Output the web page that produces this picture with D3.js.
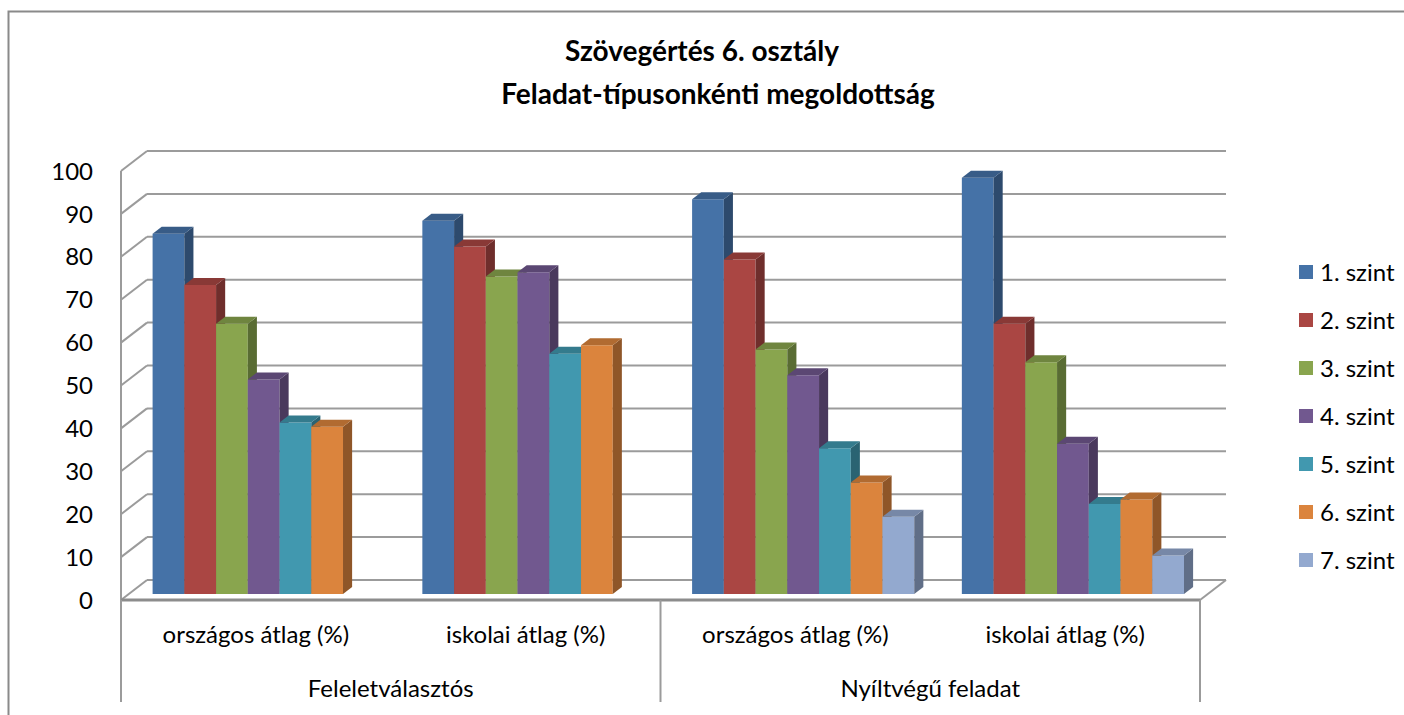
<!DOCTYPE html>
<html>
<head>
<meta charset="utf-8">
<script src="https://cdn.jsdelivr.net/npm/d3@7"></script>
<style>
  body { margin: 0; background: #fff; }
  text { font-family: Lato, "Open Sans", sans-serif; fill: #000; }
</style>
</head>
<body>
<script>
// data
var subCategories = ['országos átlag (%)', 'iskolai átlag (%)', 'országos átlag (%)', 'iskolai átlag (%)'];
var groups = ['Feleletválasztós', 'Nyíltvégű feladat'];
var levels = ['1. szint', '2. szint', '3. szint', '4. szint', '5. szint', '6. szint', '7. szint'];
var szint1 = [84, 87, 92, 97];
var szint2 = [72, 81, 78, 63];
var szint3 = [63, 74, 57, 54];
var szint4 = [50, 75, 51, 35];
var szint5 = [40, 56, 34, 21];
var szint6 = [39, 58, 26, 22];
var szint7 = [null, null, 18, 9];
var yTicks = [0, 10, 20, 30, 40, 50, 60, 70, 80, 90, 100];

var series = [szint1, szint2, szint3, szint4, szint5, szint6, szint7];
var colors = ['#4572a7', '#aa4643', '#89a54e', '#71588f', '#4198af', '#db843d', '#93a9cf'];

var width = 1404, height = 715;
var left = 121, right = 1200, floorY = 600, topY = 171;
var depthX = 26, depthY = -20;   // back wall offset
var barF0 = 0.3, barF1 = 0.65;   // bar depth (fraction of floor depth)

var svg = d3.select('body').append('svg')
  .attr('width', width)
  .attr('height', height);

// chart border
svg.append('rect')
  .attr('x', 8.5).attr('y', 11.5)
  .attr('width', 2000).attr('height', 2000)
  .style('fill', 'none')
  .style('stroke', '#8a8a8a')
  .style('stroke-width', 2);

var y = d3.scaleLinear().domain([0, 100]).range([floorY, topY]);

var x0 = d3.scaleBand()
  .domain(d3.range(subCategories.length))
  .range([left, right])
  .padding(0);

var x1 = d3.scaleBand()
  .domain(d3.range(levels.length))
  .range([0, x0.bandwidth()])
  .paddingInner(0)
  .paddingOuter(0.75);

// title
var title = svg.append('text')
  .attr('text-anchor', 'middle')
  .style('font-weight', 'bold')
  .style('font-size', '28px');
title.append('tspan').attr('x', 702).attr('y', 61).text('Szövegértés 6. osztály');
title.append('tspan').attr('x', 718).attr('y', 104).text('Feladat-típusonkénti megoldottság');

var grid = svg.append('g')
  .style('stroke', '#9b9b9b')
  .style('stroke-width', 2)
  .style('fill', 'none');

// left wall tick diagonals + back wall gridlines
yTicks.forEach(function(t) {
  grid.append('line')
    .attr('x1', left).attr('y1', y(t))
    .attr('x2', left + depthX).attr('y2', y(t) + depthY);
  grid.append('line')
    .attr('x1', left + depthX).attr('y1', y(t) + depthY)
    .attr('x2', right + depthX).attr('y2', y(t) + depthY);
});

// left axis
grid.append('line')
  .attr('x1', left).attr('y1', y(100))
  .attr('x2', left).attr('y2', y(0));

// floor
grid.append('line')
  .attr('x1', right).attr('y1', floorY)
  .attr('x2', right + depthX).attr('y2', floorY + depthY);
grid.append('line')
  .attr('x1', left).attr('y1', floorY)
  .attr('x2', right).attr('y2', floorY)
  .style('stroke', '#8c8c8c')
  .style('stroke-width', 3);

// category separators
[left, x0(2), right].forEach(function(xx) {
  grid.append('line')
    .attr('x1', xx).attr('y1', floorY)
    .attr('x2', xx).attr('y2', 702);
});

// y labels
svg.selectAll('.ylab')
  .data(yTicks)
  .enter()
  .append('text')
  .attr('class', 'ylab')
  .attr('x', 93)
  .attr('y', function(d) { return y(d); })
  .attr('dy', '0.36em')
  .attr('text-anchor', 'end')
  .style('font-size', '24px')
  .text(function(d) { return d; });

// bars
function pt(x, v, f) {
  return [x + f * depthX, y(v) + f * depthY];
}

var bars = svg.append('g');
subCategories.forEach(function(c, ci) {
  series.forEach(function(s, si) {
    var v = s[ci];
    if (v == null) return;
    var xl = x0(ci) + x1(si);
    var xr = xl + x1.bandwidth();
    var col = d3.color(colors[si]);
    var g = bars.append('g');
    // front
    var a = pt(xl, v, barF0), b = pt(xr, v, barF0), cc = pt(xr, 0, barF0), d = pt(xl, 0, barF0);
    g.append('polygon')
      .attr('points', [a, b, cc, d].join(' '))
      .attr('fill', col.formatHex());
    // side
    var b2 = pt(xr, v, barF1), c2 = pt(xr, 0, barF1);
    g.append('polygon')
      .attr('points', [b, b2, c2, cc].join(' '))
      .attr('fill', col.darker(1.2).formatHex());
    // top
    var a2 = pt(xl, v, barF1);
    g.append('polygon')
      .attr('points', [a, a2, b2, b].join(' '))
      .attr('fill', col.darker(0.6).formatHex());
  });
});

// sub category labels
svg.selectAll('.xlab')
  .data(subCategories)
  .enter()
  .append('text')
  .attr('class', 'xlab')
  .attr('x', function(d, i) { return x0(i) + x0.bandwidth() / 2; })
  .attr('y', 643)
  .attr('text-anchor', 'middle')
  .style('font-size', '24px')
  .text(function(d) { return d; });

// group labels
svg.selectAll('.glab')
  .data(groups)
  .enter()
  .append('text')
  .attr('class', 'glab')
  .attr('x', function(d, i) { return x0(i * 2) + x0.bandwidth(); })
  .attr('y', 697)
  .attr('text-anchor', 'middle')
  .style('font-size', '24px')
  .text(function(d) { return d; });

// legend
var legend = svg.selectAll('.leg')
  .data(levels)
  .enter()
  .append('g')
  .attr('class', 'leg')
  .attr('transform', function(d, i) { return 'translate(1299,' + (272 + i * 48) + ')'; });
legend.append('rect')
  .attr('x', 0).attr('y', -7)
  .attr('width', 14).attr('height', 14)
  .attr('fill', function(d, i) { return colors[i]; });
legend.append('text')
  .attr('x', 21)
  .attr('dy', '0.36em')
  .style('font-size', '24px')
  .text(function(d) { return d; });
</script>
</body>
</html>
